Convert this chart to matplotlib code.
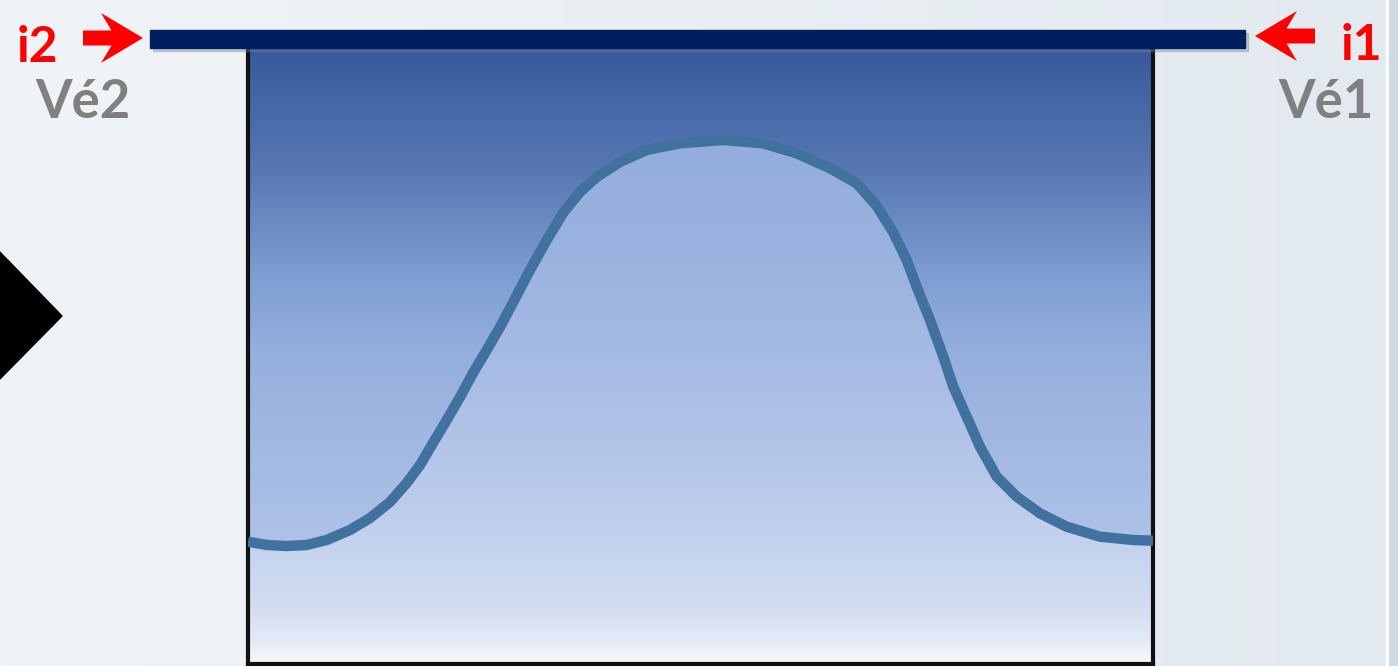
import numpy as np
import matplotlib
matplotlib.use("Agg")
import matplotlib.pyplot as plt
from matplotlib.colors import LinearSegmentedColormap
from matplotlib.patches import Polygon, Rectangle, FancyArrow

# =========================
# Données : courbe dans le cadre (x, y en % du cadre)
# =========================
curve_x = [0.0, 2.07, 4.28, 6.49, 8.70, 11.27, 13.48, 15.69, 17.54, 19.01,
           20.44, 21.96, 23.43, 24.86, 26.38, 27.85, 29.14, 31.16, 33.01,
           34.81, 36.69, 38.53, 41.10, 44.06, 47.73, 52.49, 56.91, 60.63,
           64.31, 67.26, 69.47, 71.27, 72.78, 73.89, 75.36, 76.83, 77.93,
           79.41, 80.88, 82.73, 84.94, 87.51, 90.46, 94.14, 97.82, 100.0]
curve_y = [19.82, 19.29, 19.12, 19.29, 20.10, 21.72, 23.66, 26.26, 29.34,
           32.25, 35.82, 39.55, 43.27, 47.16, 50.89, 54.62, 58.18, 63.86,
           68.70, 73.10, 76.50, 78.93, 81.36, 83.31, 84.39, 84.93, 84.39,
           82.77, 80.34, 77.91, 74.23, 70.02, 65.48, 61.10, 55.75, 49.81,
           44.94, 40.08, 35.22, 30.36, 27.12, 24.42, 22.25, 20.63, 20.10, 19.98]

# libellés
left_labels = ["i2", "Vé2"]
right_labels = ["i1", "Vé1"]

# dégradés (position 0 = bas du cadre, 1 = haut)
bg_stops = [(0.0, "#c6d4ee"), (0.20, "#aec2e7"), (0.35, "#a3b9e2"),
            (0.51, "#94aedd"), (0.62, "#809fd4"), (0.80, "#5878b3"),
            (0.91, "#4567a7"), (1.0, "#37599a")]
fill_stops = [(0.0, "#f6f8fc"), (0.04, "#e2e9f6"), (0.09, "#d3ddf1"),
              (0.20, "#c2d1ed"), (0.35, "#b2c5e8"), (0.51, "#a5bae3"),
              (0.67, "#9ab2df"), (0.85, "#93addc"), (1.0, "#93addc")]

W, H = 1398, 666
fig = plt.figure(figsize=(W / 100, H / 100), dpi=100)

# =========================
# Fond de la diapo
# =========================
bg = fig.add_axes([0, 0, 1, 1])
bg.set_xlim(0, W)
bg.set_ylim(H, 0)
bg.axis("off")
page_cmap = LinearSegmentedColormap.from_list("page", ["#f0f4f7", "#e9eff3", "#e3eaef"])
grad = np.linspace(0, 1, 256).reshape(1, -1)
bg.imshow(grad, cmap=page_cmap, extent=[0, W, H, 0], aspect="auto")
bg.add_patch(Rectangle((1386, 0), 3, H, color="white"))
bg.add_patch(Rectangle((1389, 0), 9, H, color="#cfdbe2"))
# triangle noir à gauche
bg.add_patch(Polygon([[-5, 247], [62, 316], [-5, 384]], closed=True, color="black"))

# =========================
# Cadre avec la courbe
# =========================
ax = fig.add_axes([248 / W, 2 / H, 905 / W, 617 / H])
ax.set_xlim(0, 100)
ax.set_ylim(0, 100)

cmap_bg = LinearSegmentedColormap.from_list("bgbox", bg_stops)
cmap_fill = LinearSegmentedColormap.from_list("fillbox", fill_stops)
vert = np.linspace(0, 1, 512).reshape(-1, 1)
ax.imshow(vert, cmap=cmap_bg, extent=[0, 100, 0, 100], origin="lower",
          aspect="auto", zorder=0)
im = ax.imshow(vert, cmap=cmap_fill, extent=[0, 100, 0, 100], origin="lower",
               aspect="auto", zorder=1)
poly = Polygon(np.column_stack([[0] + curve_x + [100], [0] + curve_y + [0]]),
               closed=True, facecolor="none", edgecolor="none")
ax.add_patch(poly)
im.set_clip_path(poly)

ax.plot(curve_x, curve_y, color="#41729f", lw=7.5, solid_joinstyle="round",
        solid_capstyle="butt", zorder=3)

ax.set_xticks([])
ax.set_yticks([])
for side in ["left", "right", "bottom"]:
    ax.spines[side].set_linewidth(3)
    ax.spines[side].set_color("#111111")
ax.spines["top"].set_visible(False)

# =========================
# Barre, flèches et textes
# =========================
ov = fig.add_axes([0, 0, 1, 1])
ov.set_xlim(0, W)
ov.set_ylim(H, 0)
ov.axis("off")
ov.patch.set_alpha(0)

ov.add_patch(Rectangle((153, 33), 1095, 18, color="#7a8494", alpha=0.35))
ov.add_patch(Rectangle((150, 30), 1095, 18, color="#001f5f"))

ov.add_patch(FancyArrow(83, 38, 60, 0, width=15, head_width=50, head_length=42,
                        overhang=0.25, length_includes_head=True, color="#ff0000", lw=0))
ov.add_patch(FancyArrow(1315, 36, -60, 0, width=15, head_width=50, head_length=42,
                        overhang=0.25, length_includes_head=True, color="#ff0000", lw=0))

ov.text(17, 62, left_labels[0], color="#ff0000", fontsize=36, fontweight="bold",
        family="Lato", va="baseline", ha="left")
ov.text(35, 118, left_labels[1], color="#808080", fontsize=38, fontweight="bold",
        family="Lato", va="baseline", ha="left")
ov.text(1382, 60, right_labels[0], color="#ff0000", fontsize=36, fontweight="bold",
        family="Lato", va="baseline", ha="right")
ov.text(1374, 118, right_labels[1], color="#808080", fontsize=38, fontweight="bold",
        family="Lato", va="baseline", ha="right")

fig.savefig("out.png", dpi=100)
